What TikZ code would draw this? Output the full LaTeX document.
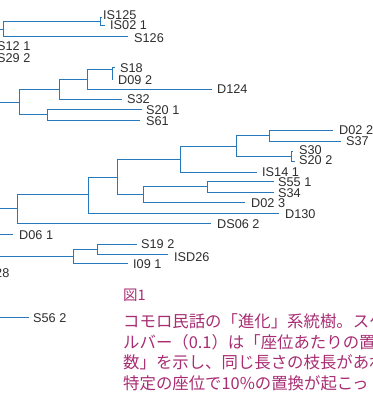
\documentclass[tikz,border=0pt]{standalone}
\usepackage{fontspec}
\setmainfont{Liberation Sans}
\newfontfamily\jpfont{Noto Sans CJK JP}
\definecolor{treeblue}{RGB}{40,120,192}
\definecolor{labelgray}{RGB}{45,45,45}
\definecolor{capmagenta}{RGB}{168,45,115}
\begin{document}
\begin{tikzpicture}[x=1pt,y=-1pt,
  branch/.style={draw=treeblue, line width=1pt},
  leaf/.style={anchor=west, inner sep=0pt, text height=9pt, text depth=0pt, text=labelgray, font=\fontsize{12.7}{14}\selectfont},
  captionline/.style={anchor=base west, inner sep=0pt, text=capmagenta, font=\jpfont\fontsize{16.4}{18}\selectfont},
  figlabel/.style={anchor=base west, inner sep=0pt, text=capmagenta, font=\jpfont\fontsize{14.5}{16}\selectfont}]
\useasboundingbox (0,0) rectangle (372,396);
\clip (0,0) rectangle (372,396);

% ---------- top clade ----------
\coordinate (t0in) at (-10,29.5);
\coordinate (t0) at (3,29.5);
\coordinate (tF) at (100,22);
\coordinate (lIS125) at (102,18);
\coordinate (lIS02) at (105,26);
\coordinate (lS126) at (128,37);
\draw[branch] (t0in) -- (t0);
\draw[branch] (t0) |- (tF);
\draw[branch] (t0) |- (lS126);
\draw[branch] (tF) |- (lIS125);
\draw[branch] (tF) |- (lIS02);
\node[leaf] (nIS125) at (103,15) {IS125};
\node[leaf] (nIS02) at (110,25) {IS02 1};
\node[leaf] (nS126) at (134,38) {S126};
\node[leaf] (nS12) at (-3,46) {S12 1};
\node[leaf] (nS29) at (-3,58) {S29 2};

% ---------- second clade ----------
\coordinate (ain) at (-10,102);
\coordinate (A) at (19,102);
\coordinate (B) at (59,89.5);
\coordinate (C) at (47,114.5);
\coordinate (D) at (87,79.5);
\coordinate (E) at (112,69.5);
\coordinate (lS18) at (115,67.5);
\coordinate (lD09) at (113,79);
\coordinate (lD124) at (212,89);
\coordinate (lS32) at (122,99);
\coordinate (lS201) at (142,109);
\coordinate (lS61) at (140,120);
\draw[branch] (ain) -- (A);
\draw[branch] (A) |- (B);
\draw[branch] (A) |- (C);
\draw[branch] (B) |- (D);
\draw[branch] (B) |- (lS32);
\draw[branch] (D) |- (E);
\draw[branch] (D) |- (lD124);
\draw[branch] (E) |- (lS18);
\draw[branch] (E) |- (lD09);
\draw[branch] (C) |- (lS201);
\draw[branch] (C) |- (lS61);
\node[leaf] (nS18) at (120,68) {S18};
\node[leaf] (nD09) at (118,80) {D09 2};
\node[leaf] (nD124) at (217,89) {D124};
\node[leaf] (nS32) at (127,98.5) {S32};
\node[leaf] (nS201) at (146,109.5) {S20 1};
\node[leaf] (nS61) at (146,121) {S61};

% ---------- middle clade ----------
\coordinate (gin) at (-10,208.5);
\coordinate (G) at (17,208.5);
\coordinate (H) at (88,194);
\coordinate (I) at (117,177);
\coordinate (J) at (180,159);
\coordinate (K) at (143,194.5);
\coordinate (L) at (207,186.5);
\coordinate (M) at (236,146);
\coordinate (N) at (269,135.5);
\coordinate (O) at (291,156);
\coordinate (lD022) at (333,130);
\coordinate (lS37) at (341,141);
\coordinate (lS30) at (293,151);
\coordinate (lS202) at (295,161);
\coordinate (lIS14) at (257,172);
\coordinate (lS551) at (274,181);
\coordinate (lS34) at (274,192);
\coordinate (lD023) at (245,202);
\coordinate (lD130) at (279,213);
\coordinate (lDS06) at (211,223);
\draw[branch] (gin) -- (G);
\draw[branch] (G) |- (H);
\draw[branch] (G) |- (lDS06);
\draw[branch] (H) |- (I);
\draw[branch] (H) |- (lD130);
\draw[branch] (I) |- (J);
\draw[branch] (I) |- (K);
\draw[branch] (J) |- (M);
\draw[branch] (J) |- (lIS14);
\draw[branch] (M) |- (N);
\draw[branch] (M) |- (O);
\draw[branch] (N) |- (lD022);
\draw[branch] (N) |- (lS37);
\draw[branch] (O) |- (lS30);
\draw[branch] (O) |- (lS202);
\draw[branch] (K) |- (L);
\draw[branch] (K) |- (lD023);
\draw[branch] (L) |- (lS551);
\draw[branch] (L) |- (lS34);
\node[leaf] (nD022) at (339,129.5) {D02 2};
\node[leaf] (nS37) at (346,141) {S37};
\node[leaf] (nS30) at (299,149.5) {S30};
\node[leaf] (nS202) at (299,160) {S20 2};
\node[leaf] (nIS14) at (262,171.5) {IS14 1};
\node[leaf] (nS551) at (278,182) {S55 1};
\node[leaf] (nS34) at (278,192.5) {S34};
\node[leaf] (nD023) at (251,203) {D02 3};
\node[leaf] (nD130) at (285,213.5) {D130};
\node[leaf] (nDS06) at (217,223.5) {DS06 2};

% ---------- D06 1 ----------
\coordinate (din) at (-10,234);
\coordinate (lD061) at (13,234);
\draw[branch] (din) -- (lD061);
\node[leaf] (nD061) at (19,235) {D06 1};

% ---------- bottom clade ----------
\coordinate (pin) at (-10,256);
\coordinate (P) at (73,256);
\coordinate (Q) at (97,249);
\coordinate (lS192) at (137,244);
\coordinate (lISD26) at (168,254);
\coordinate (lI091) at (128,263);
\draw[branch] (pin) -- (P);
\draw[branch] (P) |- (Q);
\draw[branch] (P) |- (lI091);
\draw[branch] (Q) |- (lS192);
\draw[branch] (Q) |- (lISD26);
\node[leaf] (nS192) at (141,244) {S19 2};
\node[leaf] (nISD26) at (174,257) {ISD26};
\node[leaf] (nI091) at (133,263.5) {I09 1};
\node[leaf] (n28) at (-5,273) {28};

% ---------- S56 2 ----------
\coordinate (sin) at (-10,317);
\coordinate (lS562) at (29,317);
\draw[branch] (sin) -- (lS562);
\node[leaf] (nS562) at (33,317.5) {S56 2};

% ---------- caption ----------
\node[figlabel] (fig) at (123,300.5) {図1};
\node[captionline] (cap1) at (123,327.5) {コモロ民話の「進化」系統樹。スケ};
\node[captionline] (cap2) at (123,348) {ルバー（0.1）は「座位あたりの置};
\node[captionline] (cap3) at (123,368.5) {数」を示し、同じ長さの枝長があれ};
\node[captionline] (cap4) at (123,389) {特定の座位で10\%の置換が起こっ};
\end{tikzpicture}
\end{document}
